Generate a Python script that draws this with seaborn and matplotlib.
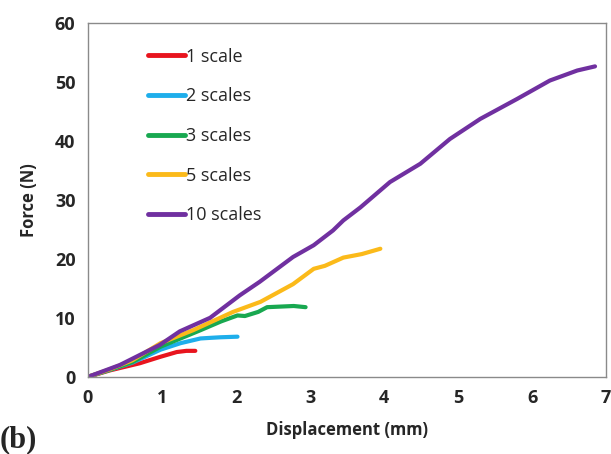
import matplotlib
matplotlib.use("Agg")
import matplotlib.pyplot as plt
import seaborn as sns
import pandas as pd

# Force-displacement curves for each scale count
x_1 = [0.0, 0.3, 0.7, 0.98, 1.2, 1.33, 1.45]
y_1 = [0.0, 1.1, 2.3, 3.4, 4.2, 4.4, 4.4]

x_2 = [0.0, 0.3, 0.6, 0.98, 1.25, 1.52, 1.65, 1.79, 2.02]
y_2 = [0.0, 1.2, 2.4, 4.6, 5.7, 6.5, 6.6, 6.7, 6.8]

x_3 = [0.0, 0.3, 0.6, 0.98, 1.25, 1.52, 1.8, 2.02, 2.12, 2.3, 2.42, 2.6, 2.78, 2.94]
y_3 = [0.0, 1.2, 2.5, 5.1, 6.5, 7.9, 9.4, 10.4, 10.3, 11.0, 11.8, 11.9, 12.0, 11.8]

x_5 = [0.0, 0.3, 0.6, 0.98, 1.42, 1.96, 2.33, 2.77, 3.05, 3.2, 3.45, 3.7, 3.95]
y_5 = [0.0, 1.3, 2.8, 5.7, 7.9, 11.0, 12.7, 15.7, 18.3, 18.8, 20.2, 20.8, 21.7]

x_10 = [0.0, 0.43, 0.97, 1.24, 1.65, 2.05, 2.32, 2.77, 3.05, 3.31, 3.45, 3.68,
        4.08, 4.49, 4.89, 5.30, 5.80, 6.24, 6.61, 6.85]
y_10 = [0.0, 2.0, 5.4, 7.7, 10.0, 13.8, 16.1, 20.3, 22.3, 24.8, 26.5, 28.7,
        33.0, 36.1, 40.3, 43.7, 47.1, 50.2, 51.9, 52.6]

labels = ["1 scale", "2 scales", "3 scales", "5 scales", "10 scales"]
colors = ["#E8141E", "#1EAEEB", "#18A850", "#FBBA1A", "#7030A0"]

series = [(x_1, y_1), (x_2, y_2), (x_3, y_3), (x_5, y_5), (x_10, y_10)]
frames = []
for lab, (xs, ys) in zip(labels, series):
    frames.append(pd.DataFrame({"Displacement": xs, "Force": ys, "Sample": lab}))
df = pd.concat(frames, ignore_index=True)

sns.set_style("white")
plt.rcParams["font.family"] = ["Open Sans", "DejaVu Sans"]

fig = plt.figure(figsize=(6.11, 4.54), dpi=100)
ax = fig.add_axes([0.144, 0.170, 0.848, 0.780])

sns.lineplot(data=df, x="Displacement", y="Force", hue="Sample",
             hue_order=labels, palette=colors, sort=False,
             linewidth=3.0, ax=ax, estimator=None)

ax.set_xlim(0, 7)
ax.set_ylim(0, 60)
ax.set_xticks(range(0, 8))
ax.set_yticks(range(0, 61, 10))
ax.tick_params(direction="in", length=6, width=0.8, color="#8a8a8a",
               labelsize=13, pad=9)
for lbl in ax.get_xticklabels() + ax.get_yticklabels():
    lbl.set_fontweight("bold")
for sp in ax.spines.values():
    sp.set_color("#8a8a8a")
    sp.set_linewidth(1.0)

ax.set_xlabel("Displacement (mm)", fontsize=12, fontweight="bold", labelpad=10)
ax.set_ylabel("Force (N)", fontsize=12, fontweight="bold", labelpad=12)

leg = ax.legend(loc="upper left", bbox_to_anchor=(0.085, 0.975), frameon=False,
                handlelength=2.05, handletextpad=0.05, labelspacing=1.2,
                fontsize=13)
for h in leg.get_lines():
    h.set_linewidth(3.5)

fig.text(0.0, 0.0, "(b)", fontsize=22, fontweight="bold",
         family=["Liberation Serif", "DejaVu Serif"], ha="left", va="bottom")

fig.savefig("out.png", dpi=100)
